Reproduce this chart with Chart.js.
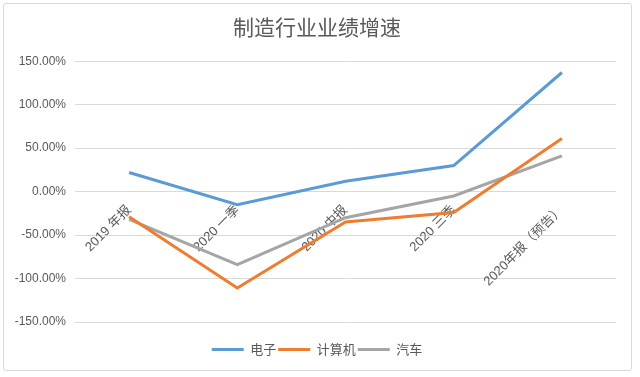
<!DOCTYPE html>
<html>
<head>
<meta charset="utf-8">
<script src="https://cdn.jsdelivr.net/npm/chart.js@4/dist/chart.umd.min.js"></script>
<style>
  html, body { margin: 0; padding: 0; background: #ffffff; }
  #wrap { position: relative; width: 640px; height: 377px; }
  #frame { position: absolute; left: 3px; top: 3px; width: 629px; height: 368px; border: 1px solid #d9d9d9; border-radius: 3px; box-sizing: border-box; }
  canvas { position: absolute; left: 0; top: 0; }
</style>
</head>
<body>
<div id="wrap">
  <div id="frame"></div>
  <canvas id="c" width="640" height="377"></canvas>
</div>
<script>
const titleText = '制造行业业绩增速';
const categories = ['2019 年报', '2020 一季', '2020 中报', '2020 三季', '2020年报（预告）'];
const seriesNames = ['电子', '计算机', '汽车'];
const dianzi = [22, -15, 12, 30, 137];
const jisuanji = [-29, -111, -35, -24, 61];
const qiche = [-32, -84, -30, -5, 41];
const yTickValues = [-150, -100, -50, 0, 50, 100, 150];
const seriesColors = ['#5B9BD5', '#ED7D31', '#A5A5A5'];

Chart.defaults.font.family = '"Liberation Sans", "Noto Sans CJK SC", sans-serif';
Chart.defaults.color = '#595959';

const seriesValues = [dianzi, jisuanji, qiche];
const datasets = seriesNames.map((name, i) => ({
  label: name,
  data: seriesValues[i],
  borderColor: seriesColors[i],
  backgroundColor: seriesColors[i],
  borderWidth: 3,
  pointRadius: 0,
  pointHoverRadius: 0,
  tension: 0,
  fill: false,
  xAxisID: 'x',
  yAxisID: 'y'
}));

new Chart(document.getElementById('c'), {
  type: 'line',
  data: { labels: categories, datasets: datasets },
  options: {
    responsive: false,
    animation: false,
    devicePixelRatio: 1,
    layout: { padding: { left: 0, right: 6, top: 0, bottom: 11 } },
    plugins: {
      title: {
        display: true,
        text: titleText,
        color: '#595959',
        font: { size: 21, weight: 'normal', family: '"Noto Sans CJK SC", sans-serif' },
        padding: { top: 14, bottom: 22 }
      },
      legend: {
        position: 'bottom',
        labels: {
          font: { size: 13, family: '"Noto Sans CJK SC", sans-serif' },
          color: '#595959',
          boxWidth: 32,
          boxHeight: 3,
          padding: 2,
          generateLabels: (chart) => Chart.defaults.plugins.legend.labels.generateLabels(chart).map(l => Object.assign(l, { lineWidth: 0 }))
        }
      },
      tooltip: { enabled: false }
    },
    scales: {
      x: {
        type: 'category',
        position: { y: 0 },
        offset: true,
        grid: { display: false },
        border: { display: false },
        ticks: {
          maxRotation: 45,
          minRotation: 45,
          autoSkip: false,
          padding: 3,
          font: { size: 13 },
          color: '#595959'
        }
      },
      xspace: {
        type: 'category',
        position: 'bottom',
        display: true,
        grid: { display: false, drawTicks: false },
        border: { display: false },
        ticks: { display: false },
        afterFit: (s) => { s.height = 19; }
      },
      rspace: {
        type: 'linear',
        position: 'right',
        display: true,
        grid: { display: false, drawTicks: false },
        border: { display: false },
        ticks: { display: false },
        afterFit: (s) => { s.width = 18; }
      },
      y: {
        min: -150,
        max: 150,
        afterBuildTicks: (s) => { s.ticks = yTickValues.map(v => ({ value: v })); },
        afterFit: (s) => { s.width = 75; },
        grid: { color: '#d9d9d9', lineWidth: 1, drawTicks: false },
        border: { display: false },
        ticks: {
          padding: 9,
          font: { size: 12 },
          color: '#595959',
          callback: (v) => Number(v).toFixed(2) + '%'
        }
      }
    }
  }
});
</script>
</body>
</html>
